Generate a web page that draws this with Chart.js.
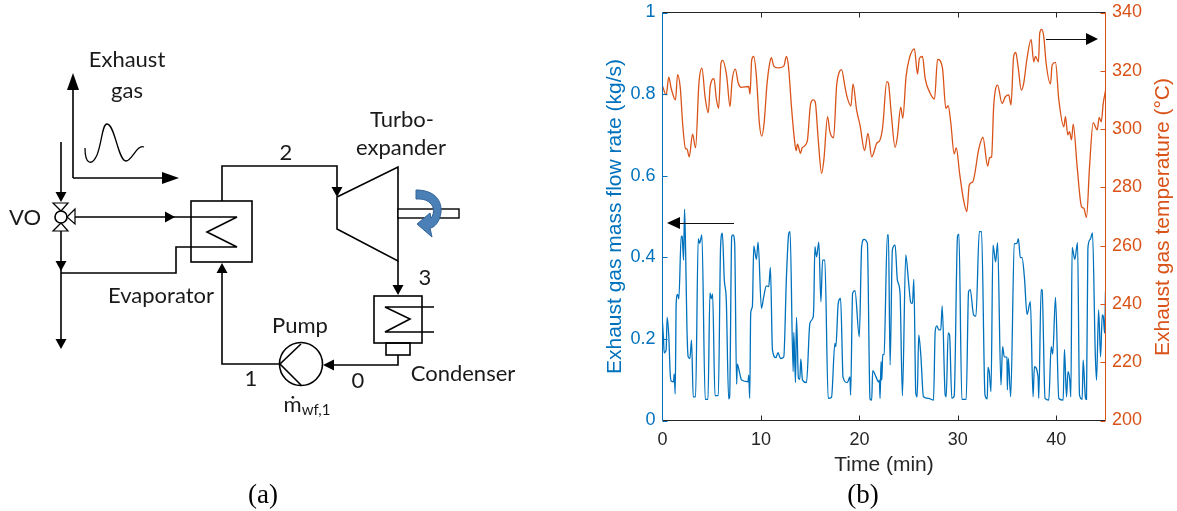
<!DOCTYPE html>
<html><head><meta charset="utf-8">
<script src="https://cdn.jsdelivr.net/npm/chart.js@4/dist/chart.umd.min.js"></script>
<style>
html,body{margin:0;padding:0;background:#fff;width:1177px;height:511px;overflow:hidden}
#c{position:absolute;left:0;top:0}
#s{position:absolute;left:0;top:0;pointer-events:none}
#s text.d{font-family:Lato,"Open Sans",sans-serif;font-size:22px;fill:#1a1a1a;text-anchor:middle}
#s text.cap{font-family:"Liberation Serif",serif;font-size:27px;fill:#000;text-anchor:middle}
#s text.yr{font-family:"Liberation Sans",Arial,sans-serif;font-size:21px;fill:#D95319;text-anchor:middle}
</style></head><body>
<canvas id="c" width="1177" height="511"></canvas>
<svg id="s" width="1177" height="511" viewBox="0 0 1177 511">
<g fill="none" stroke="#000" stroke-width="1.6">
 <path d="M73 178V85M73 178H165"/>
 <path d="M85 148C85 165 92 166 97 155C102 143 102 124 107 124C115 124 118 161 126 161C132 161 137 144 144 147" stroke-width="1.3"/>
 <path d="M61 142V195M61 231V342"/>
 <path d="M75 217H237L207 232L237 247H176V273H61"/>
 <rect x="191" y="201" width="61" height="61"/>
 <path d="M222 201V166H337V190"/>
 <path d="M222 270V364H280"/>
 <path d="M337 197L398 167V261L337 229Z"/>
 <path d="M398 261V288"/>
 <rect x="374" y="296" width="48" height="47"/>
 <path d="M434 307H385L410 319L385 332H434"/>
 <rect x="386" y="343" width="24" height="12"/>
 <path d="M398 355V365H330"/>
 <circle cx="301" cy="364" r="21.5"/>
 <path d="M301 344L280 364L301 385"/>
 <circle cx="61" cy="217" r="6"/>
 <path d="M53 203H68L61 211ZM53 231H68L61 223ZM67 217L75 209V224Z" stroke-width="1.2"/>
</g>
<rect x="398" y="209" width="61" height="9" fill="#fff" stroke="#000" stroke-width="1.4"/>
<path d="M416 190C432 190 442 198 441 212C440 222 434 228 430 228L432 237L417 224L430 213L431 218C434 215 435 207 430 203C426 199 421 199 416 199Z" fill="#4a80b5" stroke="#2f6298" stroke-width="1"/>
<g fill="#000">
 <path d="M73 73L67 90H79Z"/><path d="M179 178L162 172V184Z"/>
 <path d="M61 202L55.5 192H66.5Z"/><path d="M175 217L165 211.500V222.500Z"/>
 <path d="M61 271L55.500 261H66.500Z"/><path d="M61 349L55.500 339H66.500Z"/>
 <path d="M222 263L216.500 273H227.500Z"/><path d="M337 197L331.500 187H342.500Z"/>
 <path d="M398 295L392.500 285H403.500Z"/><path d="M323 365L334 359.500V370.500Z"/>
 <path d="M667 223L680 217V229Z"/><path d="M1098 39L1086 33V45Z"/>
</g>
<path d="M680 223.500H734M1046 39.500H1088" stroke="#111" stroke-width="1.2" fill="none"/>
<text class="d" x="127" y="67">Exhaust</text>
<text class="d" x="127" y="98">gas</text>
<text class="d" x="25" y="225">VO</text>
<text class="d" x="161" y="303">Evaporator</text>
<text class="d" x="286" y="160">2</text>
<text class="d" x="402" y="127">Turbo-</text>
<text class="d" x="401" y="155">expander</text>
<text class="d" x="425" y="285">3</text>
<text class="d" x="300" y="333">Pump</text>
<text class="d" x="251" y="386">1</text>
<text class="d" x="358" y="388">0</text>
<text class="d" x="463" y="381">Condenser</text>
<text class="d" x="307" y="412">ṁ<tspan font-size="15" dy="3">wf,1</tspan></text>
<text class="cap" x="263" y="503">(a)</text>
<text class="cap" x="863" y="503">(b)</text>
<text class="yr" transform="translate(1169,217) rotate(-90)">Exhaust gas temperature (°C)</text>
</svg>
<script>
const xTicksStep = 10;
const flowTimes = [0,.10,.17,.37,.47,.64,.78,.88,1.12,1.19,1.29,1.39,1.53,1.66,1.90,2.00,2.14,2.24,2.34,2.48,2.61,2.78,2.95,3.12,3.36,3.63,3.77,4.00,4.34,4.62,4.82,4.95,5.09,5.33,5.67,5.90,6.08,6.28,6.48,6.72,6.82,7.03,7.16,7.33,7.53,7.60,7.84,8.04,8.69,8.76,8.86,8.96,9.13,9.27,9.54,9.71,10.05,10.28,10.55,10.79,10.96,11.17,11.51,11.74,11.98,12.32,12.59,12.83,12.96,13.27,13.34,13.51,13.61,13.81,13.95,14.05,14.22,14.63,14.97,15.31,15.37,15.48,15.65,15.88,16.09,16.26,16.49,16.83,17.17,17.51,17.61,17.85,18.09,18.29,18.33,18.77,19.04,19.11,19.31,19.55,19.99,20.23,20.47,20.81,21.08,21.25,21.35,21.69,21.93,22.03,22.10,22.20,22.28,22.37,22.50,22.84,22.95,23.12,23.35,23.63,23.86,24.13,24.37,24.71,24.98,25.22,25.39,25.53,25.73,25.87,26.03,26.24,26.51,27.02,27.53,27.70,27.87,28.07,28.27,28.41,28.72,28.82,29.02,29.16,29.39,29.63,29.97,30.11,30.41,30.85,31.09,31.26,31.60,31.84,32.18,32.41,32.76,32.99,33.06,33.20,33.37,33.57,33.84,34.04,34.38,34.55,34.72,34.99,35.03,35.13,35.37,35.74,36.01,36.15,36.35,36.52,36.76,37.03,37.37,37.64,37.78,38.15,38.22,38.46,38.56,38.86,39.24,39.48,39.64,39.92,40.26,40.70,40.83,41.04,41.19,41.37,41.48,41.61,41.88,42.16,42.36,42.63,42.73,42.97,43.07,43.21,43.45,43.68,43.96,44.09,44.30,44.50,44.67,44.77,44.91,45];
const flowValues = [.240,.201,.166,.173,.253,.207,.116,.097,.095,.114,.065,.287,.309,.298,.452,.451,.393,.518,.426,.230,.156,.152,.197,.058,.058,.446,.434,.455,.052,.052,.313,.299,.310,.061,.061,.426,.459,.344,.295,.053,.058,.451,.455,.434,.089,.138,.116,.099,.095,.111,.054,.263,.279,.428,.395,.437,.275,.303,.330,.328,.375,.173,.154,.166,.152,.156,.352,.459,.463,.120,.216,.093,.253,.103,.101,.151,.099,.093,.238,.254,.283,.426,.401,.437,.291,.393,.393,.054,.057,.189,.181,.287,.299,.134,.107,.093,.107,.062,.312,.318,.205,.426,.444,.434,.053,.050,.122,.107,.095,.099,.054,.144,.099,.161,.162,.455,.455,.136,.418,.430,.344,.312,.061,.406,.344,.289,.287,.346,.067,.058,.210,.160,.058,.054,.050,.218,.232,.222,.222,.281,.062,.058,.215,.210,.054,.060,.452,.457,.052,.052,.316,.321,.259,.256,.463,.463,.062,.053,.130,.117,.071,.430,.389,.436,.087,.181,.156,.155,.075,.152,.058,.433,.434,.446,.399,.399,.352,.260,.291,.058,.132,.106,.054,.321,.320,.054,.050,.181,.163,.302,.054,.050,.174,.058,.120,.099,.058,.424,.395,.436,.062,.052,.148,.054,.052,.422,.444,.460,.165,.099,.271,.156,.259,.256,.214,.316];
const tempTimes = [0,.37,.64,.88,1.32,1.53,1.80,2.07,2.34,2.48,2.72,3.05,3.36,3.70,4.00,4.34,4.65,4.85,5.23,5.46,5.70,5.94,6.11,6.52,6.86,7.06,7.40,7.70,8.01,8.76,8.89,9.06,9.27,9.54,9.84,10.08,10.32,10.62,10.89,11.06,11.30,11.74,12.32,12.59,12.80,13.10,13.37,13.58,13.71,14.02,14.19,14.70,15.03,15.31,15.51,15.82,16.16,16.39,16.77,17.00,17.38,17.68,17.95,18.19,18.53,18.77,19.14,19.35,19.72,20.06,20.53,20.87,21.25,21.76,22.10,22.37,22.78,22.95,23.22,23.63,23.86,24.20,24.41,24.74,25.08,25.59,25.90,26.10,26.41,26.68,27.19,27.63,27.94,28.44,28.78,29.02,29.29,29.63,29.84,30.18,30.58,30.92,31.16,31.53,32.14,32.55,33.03,33.23,33.43,33.64,34.04,34.49,34.83,35.17,35.40,35.67,35.88,36.12,36.45,36.69,37.03,37.44,37.71,37.88,38.19,38.32,38.52,38.73,38.97,39.41,39.58,39.92,40.26,40.77,40.93,41.17,41.34,41.55,41.72,42.12,42.56,42.80,43.07,43.38,43.75,44.16,44.36,44.57,44.77,45];
const tempValues = [314.8,311.7,317.8,314.0,310.0,318.7,314.3,300.8,293.3,293.2,290.5,298.3,293.6,315.7,320.9,310.6,305.6,314.8,317.3,310.6,307.1,322.6,323.6,318.2,307.7,316.3,320.6,315.7,314.3,314.6,312.0,323.7,324.9,318.0,302.0,297.6,302.0,315.7,322.6,324.5,321.6,321.0,321.6,324.9,321.4,307.7,297.4,292.6,294.8,291.7,293.6,295.7,308.3,310.0,309.4,296.3,284.8,289.4,304.3,299.1,297.0,314.6,319.5,320.4,314.6,310.8,307.9,315.5,306.5,301.4,292.6,298.5,290.5,295.1,296.3,300.8,316.3,315.7,306.0,293.7,297.4,307.5,303.7,318.0,324.3,327.5,318.9,324.3,324.9,317.4,312.3,310.3,323.9,320.9,307.1,308.0,302.0,291.5,293.6,284.8,275.7,271.7,280.8,282.0,293.4,297.2,287.3,290.2,290.5,307.7,315.1,308.8,311.1,311.7,308.3,324.9,326.3,321.4,313.4,315.7,324.3,330.8,323.1,324.9,323.1,332.9,334.2,331.7,322.6,315.5,322.0,322.9,310.0,300.8,304.3,298.0,299.1,296.3,301.7,287.1,273.4,272.8,269.7,287.1,302.2,299.7,304.0,302.5,308.8,313.2];

const BLUE = '#0072BD', ORANGE = '#D95319', DARK = '#262626';
const FONT = '"Liberation Sans", Arial, sans-serif';

const frame = {
  id: 'frame',
  afterDraw(ch) {
    const c = ch.ctx, a = ch.chartArea, T = 5;
    const seg = (col, x1, y1, x2, y2) => { c.strokeStyle = col; c.beginPath(); c.moveTo(x1, y1); c.lineTo(x2, y2); c.stroke(); };
    c.save(); c.lineWidth = 1;
    seg(DARK, a.left, a.top, a.right, a.top);
    seg(DARK, a.left, a.bottom, a.right, a.bottom);
    ch.scales.x.ticks.forEach(t => {
      const p = Math.round(ch.scales.x.getPixelForValue(t.value)) + .5;
      if (t.value > 0) { seg(DARK, p, a.bottom, p, a.bottom - T); seg(DARK, p, a.top, p, a.top + T); }
    });
    seg(BLUE, a.left, a.top, a.left, a.bottom);
    ch.scales.y.ticks.forEach(t => { const p = Math.round(ch.scales.y.getPixelForValue(t.value)) + .5; seg(BLUE, a.left, p, a.left + T, p); });
    seg(ORANGE, a.right, a.top, a.right, a.bottom);
    ch.scales.y1.ticks.forEach(t => { const p = Math.round(ch.scales.y1.getPixelForValue(t.value)) + .5; seg(ORANGE, a.right, p, a.right - T, p); });
    c.restore();
  }
};
const noGutter = s => { s.paddingTop = 0; s.paddingBottom = 0; s.paddingLeft = 0; s.paddingRight = 0; };

new Chart(document.getElementById('c'), {
  type: 'line',
  data: { datasets: [
    { label: 'Exhaust gas mass flow rate (kg/s)', yAxisID: 'y', borderColor: BLUE, borderWidth: 1.3, pointRadius: 0, cubicInterpolationMode: 'monotone', data: flowTimes.map((x, i) => ({ x, y: flowValues[i] })) },
    { label: 'Exhaust gas temperature (°C)', yAxisID: 'y1', borderColor: ORANGE, borderWidth: 1.3, pointRadius: 0, cubicInterpolationMode: 'monotone', data: tempTimes.map((x, i) => ({ x, y: tempValues[i] })) }
  ]},
  options: {
    responsive: false, animation: false, devicePixelRatio: 1,
    layout: { padding: { left: 600, right: 0, top: 12.5, bottom: 0 } },
    plugins: { legend: { display: false }, tooltip: { enabled: false } },
    scales: {
      x: { type: 'linear', min: 0, max: 45,
        grid: { display: false, drawTicks: false }, border: { display: false },
        ticks: { stepSize: xTicksStep, includeBounds: false, color: DARK, font: { family: FONT, size: 18 }, padding: 9, maxRotation: 0 },
        title: { display: true, text: 'Time (min)', color: DARK, font: { family: FONT, size: 21 }, padding: { top: 2, bottom: 33 } },
        afterFit(s) { s.height = 90.5; noGutter(s); } },
      y: { position: 'left', min: 0, max: 1,
        grid: { display: false, drawTicks: false }, border: { display: false },
        ticks: { stepSize: .2, color: BLUE, font: { family: FONT, size: 18 }, padding: 7, callback: v => String(+v.toFixed(1)) },
        title: { display: true, text: 'Exhaust gas mass flow rate (kg/s)', color: BLUE, font: { family: FONT, size: 21 }, padding: { top: 2.5, bottom: 0 } },
        afterFit(s) { s.width = 62.5; noGutter(s); } },
      y1: { position: 'right', min: 200, max: 340,
        grid: { display: false, drawTicks: false }, border: { display: false },
        ticks: { stepSize: 20, color: ORANGE, font: { family: FONT, size: 18 }, padding: 6.5 },
        afterFit(s) { s.width = 71.5; noGutter(s); } }
    }
  },
  plugins: [frame]
});
</script>
</body></html>
